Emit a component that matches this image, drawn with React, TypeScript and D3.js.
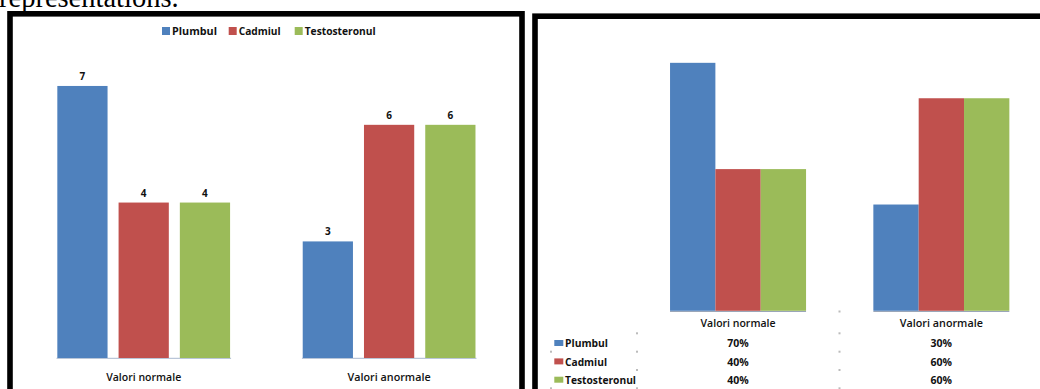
import React from "react";
import * as d3 from "d3";

const categories = ["Valori normale", "Valori anormale"];
const seriesNames = ["Plumbul", "Cadmiul", "Testosteronul"];
const seriesColors = ["#4F81BD", "#C0504D", "#9BBB59"];
const plumbulCounts = [7, 3];
const cadmiulCounts = [4, 6];
const testosteronCounts = [4, 6];
const plumbulPct = [70, 30];
const cadmiulPct = [40, 60];
const testosteronPct = [40, 60];
const countTicks = [0, 8];
const pctTicks = [0, 80];

const counts = [plumbulCounts, cadmiulCounts, testosteronCounts];
const pcts = [plumbulPct, cadmiulPct, testosteronPct];

const FONT = "'Open Sans', sans-serif";

export default function App() {
  // Left chart scales
  const lx0 = d3.scaleBand<string>().domain(categories).range([21, 511.8]).paddingInner(0.296).paddingOuter(0.148);
  const lx1 = d3.scaleBand<string>().domain(seriesNames).range([0, lx0.bandwidth()]).paddingInner(0.18);
  const ly = d3.scaleLinear().domain(countTicks).range([358, 47.1]);

  // Right chart scales
  const rx0 = d3.scaleBand<string>().domain(categories).range([636.5, 1042.9]).paddingInner(0.331).paddingOuter(0.165);
  const rx1 = d3.scaleBand<string>().domain(seriesNames).range([0, rx0.bandwidth()]).paddingInner(0);
  const ry = d3.scaleLinear().domain(pctTicks).range([310.8, 27.4]);

  const legendX = [162, 228.7, 294.7];
  const legendW = [45, 42, 71];
  const catLabelW = [75, 83];
  const rowY = [343.3, 361.7, 380];
  const rowLines = [333.3, 351.7, 370, 388.3];

  return (
    <svg width={1040} height={389} style={{ position: "absolute", left: 0, top: 0 }} fontFamily={FONT}>
      <rect x={0} y={0} width={1040} height={389} fill="#fff" />
      {/* cut-off document text */}
      <text x={-1} y={7} fontFamily="'Liberation Serif', 'Times New Roman', serif" fontSize={28.5} fill="#000">
        representations.
      </text>

      {/* LEFT CHART */}
      <rect x={10} y={13.8} width={512} height={400} fill="#fff" stroke="#000" strokeWidth={5.6} />
      {seriesNames.map((s, i) => (
        <g key={s}>
          <rect x={legendX[i]} y={27} width={8} height={8} fill={seriesColors[i]} />
          <text x={legendX[i] + 10} y={34.6} fontSize={10.5} fontWeight={700} fill="#111"
            textLength={legendW[i]} lengthAdjust="spacingAndGlyphs">{s}</text>
        </g>
      ))}
      {categories.map((c, ci) => (
        <g key={c} transform={`translate(${lx0(c)},0)`}>
          <line x1={-0.8} x2={lx0.bandwidth() + 1} y1={358.3} y2={358.3} stroke="#a9b8cf" strokeWidth={1} />
          {seriesNames.map((s, si) => {
            const v = counts[si][ci];
            const x = lx1(s)!;
            return (
              <g key={s}>
                <rect x={x} y={ly(v)} width={lx1.bandwidth()} height={ly(0) - ly(v)} fill={seriesColors[si]} />
                <text x={x + lx1.bandwidth() / 2} y={ly(v) - 6} textAnchor="middle" fontSize={10} fontWeight={700} fill="#111">
                  {v}
                </text>
              </g>
            );
          })}
          <text x={lx0.bandwidth() / 2} y={381} textAnchor="middle" fontSize={10.5} fontWeight={600} fill="#111"
            textLength={catLabelW[ci]} lengthAdjust="spacingAndGlyphs">{c}</text>
        </g>
      ))}

      {/* RIGHT CHART */}
      <rect x={535} y={16.2} width={600} height={400} fill="#fff" stroke="#000" strokeWidth={5.6} />
      {categories.map((c, ci) => (
        <g key={c} transform={`translate(${rx0(c)},0)`}>
          {seriesNames.map((s, si) => {
            const v = pcts[si][ci];
            return (
              <rect key={s} x={rx1(s)!} y={ry(v)} width={rx1.bandwidth()} height={ry(0) - ry(v)} fill={seriesColors[si]} />
            );
          })}
          <line x1={0} x2={rx0.bandwidth()} y1={311.5} y2={311.5} stroke="#9aa6b8" strokeWidth={1} />
          <text x={rx0.bandwidth() / 2} y={327} textAnchor="middle" fontSize={10.5} fontWeight={600} fill="#111"
            textLength={catLabelW[ci]} lengthAdjust="spacingAndGlyphs">{c}</text>
          {seriesNames.map((s, si) => (
            <text key={s} x={rx0.bandwidth() / 2} y={rowY[si] + 4} textAnchor="middle" fontSize={10.5} fontWeight={700} fill="#111">
              {pcts[si][ci] + "%"}
            </text>
          ))}
        </g>
      ))}
      {/* table grid remnants */}
      {rowLines.map((y) => (
        <g key={y}>
          <rect x={636} y={y - 1} width={2} height={2} fill="#bbb" />
          <rect x={838.5} y={y - 1} width={2} height={2} fill="#bbb" />
        </g>
      ))}
      <rect x={838.5} y={310.5} width={2} height={2} fill="#bbb" />
      <rect x={550} y={350.7} width={2} height={2} fill="#bbb" />
      <rect x={550} y={387.3} width={2} height={2} fill="#bbb" />
      {seriesNames.map((s, i) => (
        <g key={s}>
          <rect x={554.3} y={rowY[i] - 3.3} width={9} height={6} fill={seriesColors[i]} />
          <text x={565} y={rowY[i] + 4} fontSize={10.5} fontWeight={700} fill="#111"
            textLength={[43, 42, 71][i]} lengthAdjust="spacingAndGlyphs">{s}</text>
        </g>
      ))}
    </svg>
  );
}
